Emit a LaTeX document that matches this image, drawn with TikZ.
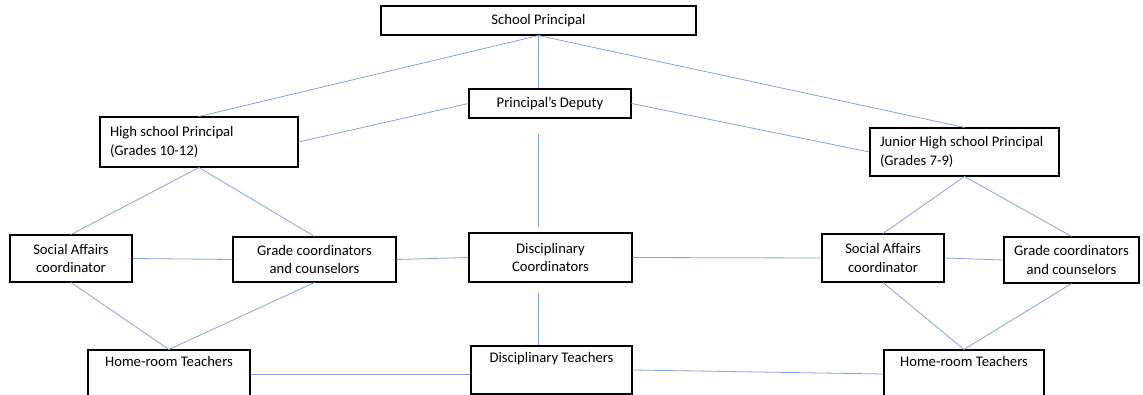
\documentclass[tikz,border=0pt]{standalone}
\usepackage{fontspec}
\setmainfont{Carlito}
\usepackage{tikz}
\definecolor{linkblue}{RGB}{135,165,210}
\tikzstyle{office}=[rectangle, draw, line width=0.8pt, inner sep=1pt, align=center, font=\fontsize{11}{14}\selectfont]
\tikzstyle{head}=[office, align=flush left, inner xsep=7.5pt]
\tikzstyle{link}=[draw=linkblue, line width=0.6pt]

\begin{document}
\begin{tikzpicture}[x=0.75pt, y=-0.75pt]
                    \fill[white] (0,0) rectangle (1143,395);
                    \useasboundingbox (0,0) rectangle (1143,395);
                    \node[office, minimum width=236.25pt, minimum height=21.75pt] (sp)   at (538.5, 20.5) {School Principal};
                    \node[office, minimum width=121.5pt,  minimum height=21.75pt] (dep)  at (550,  103.5) {Principal’s Deputy};
                    \node[head, text width=133.5pt,  minimum height=37.5pt] (hsp)  at (199,  142) {High school Principal\\(Grades 10-12)};
                    \node[head, text width=126.75pt, minimum height=36pt]   (jhsp) at (964.5, 152) {Junior High school Principal\\(Grades 7-9)};
                    \node[office, minimum width=91.5pt,   minimum height=35.25pt] (sac1) at (71,   258.5) {Social Affairs\\coordinator};
                    \node[office, minimum width=122.25pt, minimum height=33.75pt] (gcc1) at (314.5, 259.5) {Grade coordinators\\and counselors};
                    \node[office, minimum width=122.25pt, minimum height=36.75pt] (dc)   at (550.5, 257.5) {Disciplinary\\Coordinators};
                    \node[office, minimum width=91.5pt,   minimum height=36pt]    (sac2) at (883,  258) {Social Affairs\\coordinator};
                    \node[office, minimum width=101.25pt, minimum height=34.5pt]  (gcc2) at (1071.5, 260) {Grade coordinators\\and counselors};
                    \node[office, minimum width=121.5pt,  minimum height=36pt]    (hr1)  at (169,  374) {Home-room Teachers\\\strut};
                    \node[office, minimum width=120.75pt, minimum height=36pt]    (dt)   at (551.5, 370) {Disciplinary Teachers\\\strut};
                    \node[office, minimum width=120pt,    minimum height=36pt]    (hr2)  at (964,  374) {Home-room Teachers\\\strut};
                    \draw[link] (sp.south) to (hsp.north) (sp.south) to (jhsp.north);
                    \draw[link] (sp.south) to (sp.south |- dep.north);
                    \draw[link] (dep.west) to (hsp.east) (dep.east) to (jhsp.west);
                    \draw[link, shorten <=11.25pt, shorten >=3.75pt] (sp.south |- dep.south) to (sp.south |- dc.north);
                    \draw[link, shorten <=7.5pt] (sp.south |- dc.south) to (sp.south |- dt.north);
                    \draw[link] (hsp.south) to (sac1.north) (hsp.south) to (gcc1.north);
                    \draw[link] (jhsp.south) to (sac2.north) (jhsp.south) to (gcc2.north);
                    \draw[link] (sac1.east) to (gcc1.west) (gcc1.east) to (dc.west);
                    \draw[link] (dc.east) to (sac2.west) (sac2.east) to (gcc2.west);
                    \draw[link] (sac1.south) to (hr1.north) (gcc1.south) to (hr1.north);
                    \draw[link] (sac2.south) to (hr2.north) (gcc2.south) to (hr2.north);
                    \draw[link] (hr1.east) to (hr1.east -| dt.west);
                    \draw[link] (dt.east) to (hr2.west);
                \end{tikzpicture}
\end{document}
